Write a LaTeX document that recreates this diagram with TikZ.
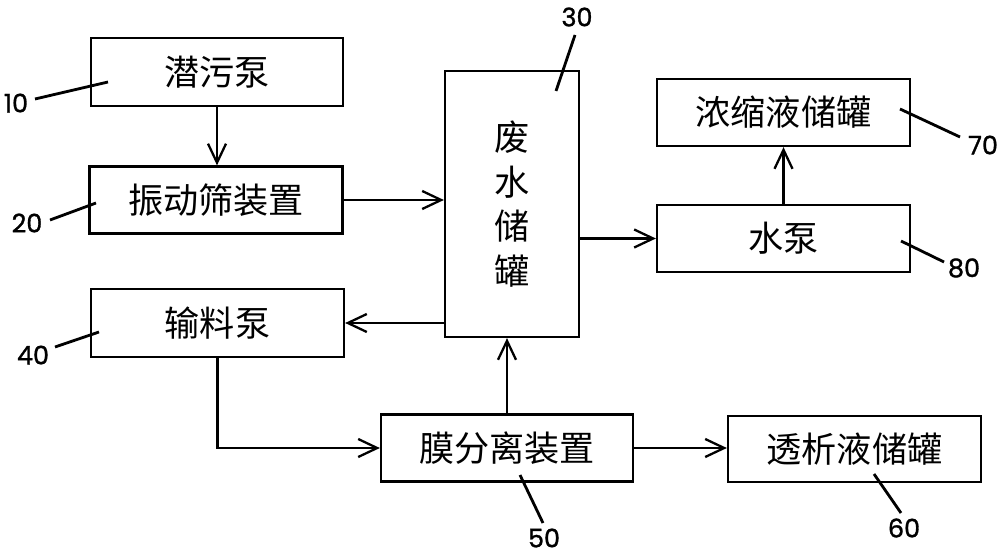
\documentclass[tikz,border=0pt]{standalone}
\usepackage{fontspec}
\newfontfamily\cjk{Noto Sans CJK SC}
\newfontfamily\numfont[FakeBold=1.2]{Poppins}
\usetikzlibrary{arrows.meta}
\begin{document}
\begin{tikzpicture}[x=0.02cm,y=-0.02cm,
  box/.style={draw=black,line width=1.3pt,rectangle,inner sep=0pt,font=\cjk\fontsize{20pt}{24pt}\selectfont},
  flow/.style={line width=1.2pt,-{Straight Barb[length=0.38cm,width=0.36cm,line width=1.3pt]}},
  lead/.style={line width=1.6pt},
  num/.style={inner sep=0pt,font=\numfont\fontsize{14.5pt}{16pt}\selectfont}]
\useasboundingbox[fill=white] (0,0) rectangle (1000,557);
% boxes
\node[box,minimum width=252*0.02cm,minimum height=68*0.02cm] (n10) at (217,72) {潜污泵};
\node[box,minimum width=253*0.02cm,minimum height=67*0.02cm] (n20) at (216,200) {振动筛装置};
\node[box,minimum width=253*0.02cm,minimum height=68*0.02cm] (n40) at (217.5,323) {输料泵};
\node[box,minimum width=134*0.02cm,minimum height=266*0.02cm,align=center,
      font=\cjk\fontsize{20pt}{25.5pt}\selectfont] (n30) at (512,204) {废\\水\\储\\罐};
\node[box,minimum width=252*0.02cm,minimum height=67*0.02cm] (n50) at (507,448) {膜分离装置};
\node[box,minimum width=253*0.02cm,minimum height=66*0.02cm] (n60) at (854.5,449) {透析液储罐};
\node[box,minimum width=253*0.02cm,minimum height=67*0.02cm] (n70) at (783.5,112.5) {浓缩液储罐};
\node[box,minimum width=253*0.02cm,minimum height=67*0.02cm] (n80) at (783.5,238.5) {水泵};
% flows
\draw[flow] (n10.south) -- (n10.south |- n20.north);
\draw[flow] (n20.east) -- (n20.east -| n30.west);
\draw[flow] (n40.east -| n30.west) -- (n40.east);
\draw[flow] (n40.south) |- (n50.west);
\draw[flow] (n50.north) -- (n50.north |- n30.south);
\draw[flow] (n50.east) -- (n50.east -| n60.west);
\draw[flow] (n80.west -| n30.east) -- (n80.west);
\draw[flow] (n80.north) -- (n80.north |- n70.south);
% reference numerals
\node[num] (l10) at (16,103) {10};
\node[num] (l20) at (27,223) {20};
\node[num] (l40) at (33,355) {40};
\node[num] (l30) at (577,17) {30};
\node[num] (l70) at (983,145) {70};
\node[num] (l80) at (964,268) {80};
\node[num] (l50) at (544,538) {50};
\node[num] (l60) at (904,528) {60};
\coordinate (a10) at (35,99);  \coordinate (b10) at (108,82);
\coordinate (a20) at (50,220); \coordinate (b20) at (96,203);
\coordinate (a40) at (55,347); \coordinate (b40) at (99,332);
\coordinate (a30) at (575,35); \coordinate (b30) at (556,91);
\coordinate (a70) at (960,137); \coordinate (b70) at (900,109);
\coordinate (a80) at (944,262); \coordinate (b80) at (901,241);
\coordinate (a50) at (543,523); \coordinate (b50) at (520,475);
\coordinate (a60) at (901,513); \coordinate (b60) at (874,474);
\foreach \k in {10,20,40,30,70,80,50,60} {\draw[lead] (a\k) -- (b\k);}
\end{tikzpicture}
\end{document}
